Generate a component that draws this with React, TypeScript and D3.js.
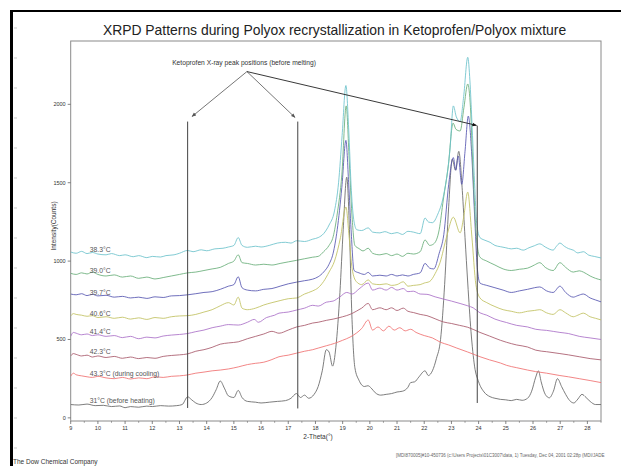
import React from "react";
import * as d3 from "d3";

type Pt = [number, number];

const W = 621;
const H = 466;

// ---- data (2-Theta in degrees, Intensity in counts) ----
const s38_3: Pt[] = [
  [9.0, 1058], [9.2, 1050], [9.4, 1062], [9.6, 1048], [9.8, 1055], [10.0, 1045], [10.3, 1040], [10.5, 1048],
  [10.8, 1035], [11.0, 1040], [11.3, 1028], [11.5, 1035], [11.8, 1022], [12.0, 1030], [12.3, 1026], [12.5, 1035],
  [12.8, 1040], [13.0, 1050], [13.3, 1068], [13.5, 1060], [13.8, 1072], [14.0, 1066], [14.3, 1078], [14.6, 1082],
  [14.8, 1090], [15.0, 1100], [15.16, 1150], [15.3, 1100], [15.5, 1088], [15.8, 1095], [16.0, 1090], [16.3, 1100],
  [16.6, 1115], [16.9, 1120], [17.1, 1115], [17.31, 1130], [17.6, 1125], [17.9, 1140], [18.1, 1150], [18.3, 1175],
  [18.5, 1230], [18.7, 1320], [18.85, 1500], [18.98, 1800], [19.12, 2120], [19.22, 1850], [19.32, 1450], [19.42, 1250],
  [19.52, 1200], [19.7, 1195], [19.94, 1212], [20.1, 1185], [20.37, 1180], [20.55, 1188], [20.8, 1175], [21.0, 1182],
  [21.2, 1170], [21.4, 1190], [21.6, 1185], [21.85, 1175], [22.03, 1275], [22.15, 1250], [22.3, 1245], [22.5, 1300],
  [22.7, 1410], [22.95, 1720], [23.07, 1990], [23.18, 1920], [23.32, 1890], [23.45, 2050], [23.6, 2300], [23.68, 2150],
  [23.75, 1900], [23.85, 1500], [23.93, 1240], [24.05, 1150], [24.2, 1135], [24.42, 1120], [24.6, 1100], [24.8, 1092],
  [25.0, 1085], [25.2, 1078], [25.4, 1082], [25.64, 1070], [25.85, 1085], [26.05, 1098], [26.25, 1110], [26.45, 1090],
  [26.74, 1070], [26.85, 1092], [26.99, 1115], [27.15, 1095], [27.3, 1080], [27.48, 1070], [27.65, 1052], [27.85, 1060],
  [28.05, 1038], [28.25, 1030], [28.5, 1020],
];

const s39_0: Pt[] = [
  [9.0, 922], [9.2, 915], [9.4, 925], [9.6, 918], [9.8, 930], [10.0, 915], [10.3, 905], [10.6, 912], [10.9, 898],
  [11.2, 905], [11.5, 890], [11.8, 898], [12.1, 886], [12.4, 895], [12.7, 905], [13.0, 915], [13.3, 925], [13.6, 930],
  [13.9, 940], [14.2, 950], [14.5, 960], [14.8, 985], [15.0, 1000], [15.16, 1040], [15.3, 990], [15.5, 985],
  [15.8, 975], [16.1, 980], [16.4, 975], [16.7, 985], [17.0, 995], [17.31, 1005], [17.6, 1015], [17.9, 1025],
  [18.1, 1030], [18.3, 1060], [18.5, 1100], [18.65, 1155], [18.8, 1300], [18.97, 1550], [19.13, 1990], [19.24, 1650],
  [19.34, 1300], [19.45, 1100], [19.6, 1080], [19.75, 1065], [19.94, 1082], [20.1, 1050], [20.37, 1040], [20.6, 1048],
  [20.8, 1035], [21.0, 1045], [21.2, 1030], [21.4, 1050], [21.6, 1045], [21.85, 1060], [22.03, 1135], [22.2, 1100],
  [22.35, 1110], [22.55, 1200], [22.7, 1390], [22.88, 1600], [23.06, 1880], [23.17, 1840], [23.32, 1830], [23.46, 1980],
  [23.6, 2130], [23.7, 1980], [23.8, 1550], [23.92, 1150], [24.05, 1025], [24.3, 1000], [24.6, 975], [24.9, 950],
  [25.2, 940], [25.5, 948], [25.8, 955], [26.05, 975], [26.25, 990], [26.45, 960], [26.74, 940], [26.99, 990],
  [27.2, 960], [27.48, 930], [27.7, 938], [27.85, 930], [28.1, 905], [28.3, 890], [28.5, 880],
];

const s39_7: Pt[] = [
  [9.0, 790], [9.2, 785], [9.4, 792], [9.6, 780], [9.8, 788], [10.0, 778], [10.3, 782], [10.6, 770], [10.9, 775],
  [11.2, 765], [11.5, 770], [11.8, 762], [12.1, 772], [12.4, 768], [12.7, 778], [13.0, 780], [13.3, 785], [13.6, 792],
  [13.9, 800], [14.2, 805], [14.5, 820], [14.8, 840], [15.0, 850], [15.16, 900], [15.3, 830], [15.5, 815], [15.8, 810],
  [16.1, 820], [16.4, 825], [16.7, 840], [17.0, 855], [17.31, 866], [17.6, 875], [17.9, 885], [18.1, 900], [18.3, 930],
  [18.5, 980], [18.65, 1050], [18.8, 1200], [18.97, 1470], [19.12, 1770], [19.22, 1500], [19.31, 1200], [19.42, 940],
  [19.6, 925], [19.8, 915], [19.94, 928], [20.1, 905], [20.37, 910], [20.6, 905], [20.8, 915], [21.0, 905], [21.2, 912],
  [21.4, 905], [21.6, 915], [21.85, 925], [22.03, 985], [22.2, 955], [22.35, 950], [22.55, 1050], [22.72, 1170],
  [22.9, 1490], [23.07, 1660], [23.16, 1580], [23.25, 1670], [23.38, 1490], [23.5, 1700], [23.62, 1925], [23.74, 1700],
  [23.85, 1300], [23.95, 960], [24.05, 860], [24.3, 845], [24.6, 830], [24.9, 815], [25.2, 800], [25.5, 810],
  [25.8, 820], [26.05, 830], [26.25, 835], [26.5, 810], [26.74, 800], [26.99, 840], [27.2, 800], [27.48, 770],
  [27.65, 780], [27.85, 790], [28.1, 765], [28.3, 752], [28.5, 740],
];

const s40_6: Pt[] = [
  [9.0, 650], [9.1, 665], [9.2, 660], [9.4, 655], [9.6, 648], [9.8, 652], [10.0, 640], [10.3, 645], [10.6, 635],
  [10.9, 642], [11.2, 630], [11.5, 638], [11.8, 628], [12.1, 640], [12.4, 635], [12.7, 645], [13.0, 650], [13.3, 652],
  [13.6, 660], [13.9, 675], [14.2, 690], [14.5, 715], [14.8, 735], [15.0, 720], [15.16, 770], [15.3, 700], [15.5, 690],
  [15.8, 700], [16.1, 720], [16.4, 735], [16.7, 748], [17.0, 760], [17.31, 765], [17.6, 790], [17.9, 810], [18.1, 830],
  [18.3, 870], [18.5, 930], [18.7, 1000], [18.92, 1150], [19.12, 1345], [19.24, 1150], [19.35, 950], [19.5, 870],
  [19.7, 850], [19.94, 880], [20.1, 855], [20.37, 850], [20.6, 855], [20.8, 845], [21.0, 850], [21.23, 868], [21.4, 840],
  [21.6, 845], [21.85, 850], [22.0, 860], [22.2, 870], [22.4, 920], [22.58, 990], [22.83, 1160], [23.07, 1280],
  [23.32, 1180], [23.45, 1280], [23.6, 1440], [23.75, 1160], [23.9, 850], [24.05, 765], [24.3, 735], [24.6, 710],
  [24.9, 690], [25.2, 680], [25.5, 670], [25.8, 680], [26.05, 685], [26.25, 690], [26.5, 670], [26.74, 660],
  [26.99, 690], [27.2, 670], [27.48, 645], [27.65, 655], [27.85, 668], [28.1, 645], [28.3, 635], [28.5, 625],
];

const s41_4: Pt[] = [
  [9.0, 520], [9.1, 545], [9.2, 540], [9.4, 530], [9.6, 535], [9.8, 525], [10.0, 530], [10.3, 520], [10.6, 525],
  [10.9, 512], [11.2, 520], [11.5, 505], [11.8, 515], [12.1, 510], [12.4, 522], [12.7, 528], [13.0, 532], [13.3, 538],
  [13.6, 550], [13.9, 560], [14.2, 575], [14.5, 585], [14.8, 595], [15.16, 592], [15.5, 610], [15.75, 628],
  [15.9, 610], [16.2, 640], [16.5, 655], [16.66, 668], [17.0, 675], [17.31, 688], [17.6, 700], [17.9, 718], [18.1, 713],
  [18.4, 738], [18.65, 745], [18.9, 772], [19.15, 800], [19.35, 790], [19.6, 822], [19.94, 860], [20.1, 815],
  [20.37, 828], [20.6, 815], [20.8, 832], [21.0, 815], [21.23, 825], [21.4, 805], [21.6, 808], [21.85, 790],
  [22.1, 788], [22.4, 772], [22.7, 758], [23.0, 745], [23.35, 728], [23.6, 715], [23.8, 702], [24.05, 670],
  [24.3, 655], [24.6, 630], [25.03, 608], [25.4, 590], [25.8, 580], [26.1, 565], [26.5, 558], [26.99, 545],
  [27.3, 538], [27.7, 520], [28.1, 510], [28.5, 500],
];

const s42_3: Pt[] = [
  [9.0, 395], [9.1, 410], [9.2, 405], [9.4, 395], [9.6, 400], [9.8, 388], [10.0, 395], [10.3, 385], [10.6, 392],
  [10.9, 380], [11.2, 388], [11.5, 378], [11.8, 385], [12.1, 380], [12.4, 392], [12.7, 398], [13.0, 402], [13.3, 408],
  [13.6, 425], [13.9, 435], [14.2, 450], [14.5, 470], [14.8, 478], [15.16, 485], [15.5, 505], [15.8, 520], [16.1, 535],
  [16.4, 552], [16.66, 540], [17.0, 560], [17.31, 580], [17.6, 590], [17.9, 605], [18.1, 610], [18.4, 622],
  [18.65, 630], [19.0, 645], [19.27, 660], [19.5, 680], [19.7, 700], [19.94, 730], [20.1, 690], [20.37, 702],
  [20.6, 690], [20.8, 702], [21.0, 685], [21.23, 700], [21.4, 680], [21.6, 672], [21.85, 660], [22.1, 652],
  [22.4, 632], [22.7, 612], [23.0, 602], [23.3, 590], [23.6, 578], [24.05, 545], [24.4, 522], [24.8, 495],
  [25.03, 482], [25.4, 465], [25.8, 452], [26.1, 432], [26.5, 422], [26.99, 410], [27.3, 402], [27.7, 390],
  [28.1, 378], [28.5, 370],
];

const s43_3: Pt[] = [
  [9.0, 265], [9.1, 285], [9.2, 275], [9.4, 268], [9.6, 262], [9.8, 258], [10.0, 265], [10.3, 255], [10.6, 250],
  [10.9, 258], [11.2, 248], [11.5, 255], [11.8, 250], [12.1, 262], [12.4, 258], [12.7, 265], [13.0, 268], [13.3, 274],
  [13.6, 285], [13.9, 292], [14.2, 300], [14.5, 305], [14.8, 312], [15.16, 325], [15.5, 340], [15.8, 348],
  [16.1, 355], [16.4, 372], [16.66, 390], [17.0, 400], [17.31, 413], [17.6, 425], [17.9, 435], [18.1, 445],
  [18.4, 460], [18.7, 475], [19.0, 495], [19.27, 515], [19.5, 540], [19.7, 570], [19.94, 624], [20.1, 560],
  [20.3, 580], [20.5, 555], [20.7, 585], [20.9, 560], [21.1, 575], [21.3, 555], [21.5, 565], [21.7, 545], [22.0, 525],
  [22.3, 510], [22.6, 482], [22.9, 465], [23.2, 445], [23.6, 420], [24.05, 390], [24.4, 370], [24.8, 350],
  [25.03, 335], [25.4, 320], [25.8, 305], [26.1, 295], [26.5, 285], [26.99, 270], [27.3, 262], [27.7, 250],
  [28.1, 238], [28.5, 225],
];

const s31_0: Pt[] = [
  [9.0, 85], [9.3, 82], [9.6, 88], [9.9, 78], [10.2, 80], [10.5, 72], [10.8, 76], [11.0, 65], [11.2, 72], [11.5, 68],
  [11.8, 75], [12.0, 72], [12.3, 78], [12.6, 75], [12.9, 78], [13.1, 85], [13.3, 134], [13.45, 115], [13.6, 95],
  [13.8, 85], [14.0, 95], [14.2, 130], [14.35, 180], [14.5, 235], [14.65, 190], [14.8, 140], [15.0, 130], [15.16, 175],
  [15.3, 130], [15.5, 105], [15.8, 100], [16.0, 95], [16.3, 100], [16.6, 105], [16.9, 110], [17.1, 125], [17.3, 155],
  [17.45, 130], [17.6, 145], [17.75, 125], [17.95, 150], [18.1, 200], [18.25, 300], [18.4, 435], [18.5, 420],
  [18.63, 330], [18.75, 450], [18.9, 800], [19.02, 1200], [19.15, 1535], [19.25, 1200], [19.33, 700], [19.45, 320],
  [19.6, 240], [19.8, 200], [19.93, 205], [20.05, 190], [20.2, 160], [20.4, 145], [20.6, 150], [20.8, 155],
  [21.0, 165], [21.2, 170], [21.4, 195], [21.5, 225], [21.65, 230], [21.8, 260], [22.03, 300], [22.15, 270],
  [22.3, 300], [22.45, 380], [22.6, 500], [22.75, 850], [22.9, 1350], [23.03, 1650], [23.15, 1580], [23.27, 1700],
  [23.4, 1450], [23.5, 1150], [23.6, 860], [23.72, 550], [23.85, 330], [24.0, 230], [24.2, 165], [24.42, 135],
  [24.6, 125], [24.8, 118], [25.0, 115], [25.2, 110], [25.4, 118], [25.6, 112], [25.8, 125], [25.95, 170],
  [26.1, 260], [26.2, 300], [26.3, 230], [26.45, 150], [26.6, 128], [26.75, 170], [26.9, 250], [27.05, 200],
  [27.2, 150], [27.35, 110], [27.5, 95], [27.65, 120], [27.8, 150], [27.95, 130], [28.1, 105], [28.3, 85], [28.5, 85],
];

const seriesData: Pt[][] = [s38_3, s39_0, s39_7, s40_6, s41_4, s42_3, s43_3, s31_0];
const seriesLabels = [
  "38.3°C", "39.0°C", "39.7°C", "40.6°C", "41.4°C", "42.3°C",
  "43.3°C (during cooling)", "31°C (before heating)",
];
const seriesColors = [
  "#6cc2cb", "#68ad78", "#5555b0", "#c0c060", "#aa70c8", "#a8586a", "#f07070", "#666666",
];
const labelAnchorX = 9.7;
const labelAnchorY = [1061, 924, 783, 652, 534, 407, 269, 98];

const xTicks = d3.range(9, 29, 1);
const xMinorTicks = d3.range(9.5, 28.6, 1);
const yTicks = [0, 500, 1000, 1500, 2000];

const peakLineX = [13.3, 17.35, 23.95];
const peakLineTop = [1890, 1890, 1864];
const peakLineBottom = [63, 60, 95];
const annotationText = "Ketoprofen X-ray peak positions (before melting)";
const annotationTextPos: Pt = [12.73, 2254];
const arrowOrigin: Pt = [15.48, 2209];
const arrowEnds: Pt[] = [[13.46, 1922], [17.25, 1916], [23.92, 1866]];

const plot = { left: 70.7, right: 601, top: 41, bottom: 421 };

const x = d3.scaleLinear().domain([9, 28.5]).range([plot.left, plot.right]);
const y = d3.scaleLinear().domain([-20, 2404]).range([plot.bottom, plot.top]);

const line = d3
  .line<Pt>()
  .x((d) => x(d[0]))
  .y((d) => y(d[1]))
  .curve(d3.curveMonotoneX);

const FONT = "'Liberation Sans', Arial, sans-serif";

export default function App() {
  const drawOrder = [7, 6, 5, 4, 3, 2, 1, 0];
  const rulerTicks = d3.range(28, 460, 30);
  return (
    <div style={{ position: "fixed", left: 0, top: 0, width: W, height: H, background: "#fff" }}>
      <svg width={W} height={H} viewBox={`0 0 ${W} ${H}`} style={{ display: "block", fontFamily: FONT }}>
        <defs>
          <clipPath id="plotClip">
            <rect x={plot.left} y={plot.top} width={plot.right - plot.left} height={plot.bottom - plot.top} />
          </clipPath>
          <marker id="arrowGray" viewBox="0 0 10 10" refX="9" refY="5" markerWidth="5" markerHeight="5" orient="auto">
            <path d="M0,1 L10,5 L0,9 z" fill="#555" />
          </marker>
          <marker id="arrowBlack" viewBox="0 0 10 10" refX="9" refY="5" markerWidth="5" markerHeight="5" orient="auto">
            <path d="M0,1 L10,5 L0,9 z" fill="#111" />
          </marker>
        </defs>
        <rect x={0} y={0} width={W} height={H} fill="#fff" />
        {/* page frame */}
        <line x1={10} y1={11} x2={W} y2={11} stroke="#000" strokeWidth={2} />
        <line x1={11.5} y1={10} x2={11.5} y2={H} stroke="#000" strokeWidth={3} />
        {rulerTicks.map((t) => (
          <line key={t} x1={14} x2={17} y1={t} y2={t} stroke="#bbb" strokeWidth={0.8} />
        ))}

        {/* title */}
        <text x={334.5} y={35} textAnchor="middle" fontSize={13.9} fill="#222">
          XRPD Patterns during Polyox recrystallization in Ketoprofen/Polyox mixture
        </text>

        {/* plot frame */}
        <rect
          x={plot.left}
          y={plot.top}
          width={plot.right - plot.left}
          height={plot.bottom - plot.top}
          fill="none"
          stroke="#8a8a8a"
          strokeWidth={1}
        />

        {/* y axis ticks */}
        {yTicks.map((t) => (
          <g key={t}>
            <line x1={plot.left - 3} x2={plot.left} y1={y(t)} y2={y(t)} stroke="#666" strokeWidth={0.8} />
            <text x={plot.left - 5} y={y(t)} dy="0.35em" textAnchor="end" fontSize={5.5} fill="#333">
              {t}
            </text>
          </g>
        ))}
        <text
          transform={`translate(55.5,${226}) rotate(-90)`}
          textAnchor="middle"
          fontSize={6.5}
          fill="#333"
        >
          Intensity(Counts)
        </text>

        {/* x axis ticks */}
        {xTicks.map((t) => (
          <g key={t}>
            <line x1={x(t)} x2={x(t)} y1={plot.bottom} y2={plot.bottom + 3} stroke="#666" strokeWidth={0.8} />
            <text x={x(t)} y={plot.bottom + 9} textAnchor="middle" fontSize={5.5} fill="#333">
              {t}
            </text>
          </g>
        ))}
        {xMinorTicks.map((t) => (
          <line key={t} x1={x(t)} x2={x(t)} y1={plot.bottom} y2={plot.bottom + 1.8} stroke="#777" strokeWidth={0.7} />
        ))}
        <text x={318} y={439} textAnchor="middle" fontSize={6.5} fill="#333">
          2-Theta(°)
        </text>

        {/* traces */}
        <g clipPath="url(#plotClip)">
          {drawOrder.map((i) => (
            <path key={i} d={line(seriesData[i]) || ""} fill="none" stroke={seriesColors[i]} strokeWidth={0.85} />
          ))}
        </g>

        {/* trace labels */}
        {seriesLabels.map((lab, i) => (
          <text key={lab} x={x(labelAnchorX)} y={y(labelAnchorY[i])} fontSize={6.8} fill="#555">
            {lab}
          </text>
        ))}

        {/* ketoprofen peak position markers */}
        {peakLineX.map((px, i) => (
          <line
            key={px}
            x1={x(px)}
            x2={x(px)}
            y1={y(peakLineTop[i])}
            y2={y(peakLineBottom[i])}
            stroke="#444"
            strokeWidth={1}
          />
        ))}
        <text x={x(annotationTextPos[0])} y={y(annotationTextPos[1])} fontSize={6.7} fill="#333">
          {annotationText}
        </text>
        {arrowEnds.map((e, i) => (
          <line
            key={i}
            x1={x(arrowOrigin[0])}
            y1={y(arrowOrigin[1])}
            x2={x(e[0])}
            y2={y(e[1])}
            stroke={i === 2 ? "#222" : "#666"}
            strokeWidth={0.9}
            markerEnd={i === 2 ? "url(#arrowBlack)" : "url(#arrowGray)"}
          />
        ))}

        {/* footer */}
        <text x={13} y={464} fontSize={6.5} fill="#333">
          The Dow Chemical Company
        </text>
        <text x={396} y={457} fontSize={4.5} fill="#666">
          [MDI870005]#10-450736 (c:\Users Projects\01C3007\data, 1) Tuesday, Dec 04, 2001 02:28p (MDI/JADE
        </text>
      </svg>
    </div>
  );
}
